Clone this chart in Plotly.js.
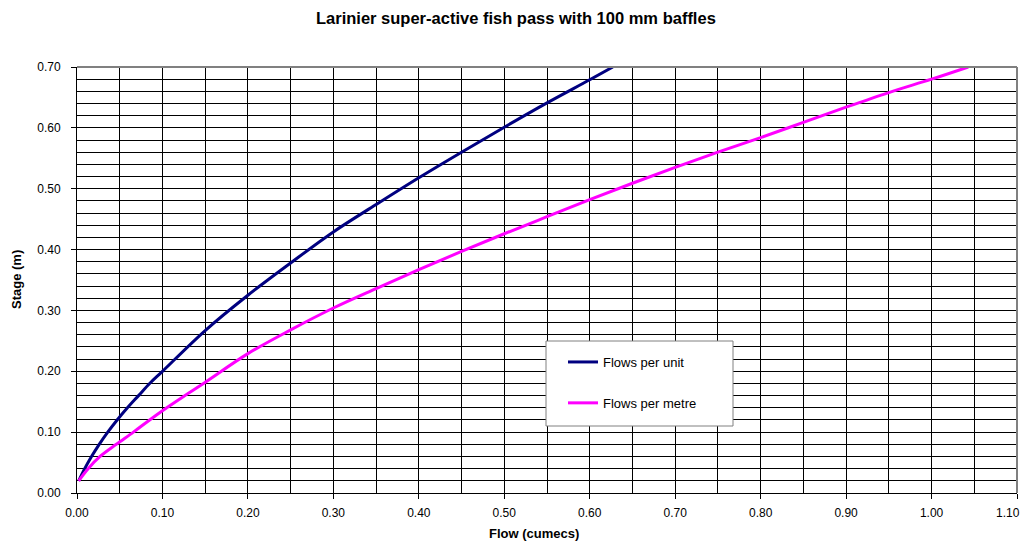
<!DOCTYPE html>
<html>
<head>
<meta charset="utf-8">
<script src="https://cdn.plot.ly/plotly-3.0.1.min.js"></script>
<style>html,body{margin:0;padding:0;background:#fff;}#chart{width:1023px;height:542px;}</style>
</head>
<body>
<div id="chart"></div>
<script>
// Flows per unit (navy)
const unitFlow  = [0.002,0.009,0.017,0.026,0.036,0.047,0.059,0.072,0.085,0.100,0.150,0.200,0.250,0.300,0.350,0.400,0.450,0.500,0.550,0.600,0.627];
const unitStage = [0.02,0.04,0.06,0.08,0.10,0.12,0.14,0.16,0.18,0.20,0.267,0.325,0.378,0.429,0.474,0.518,0.560,0.601,0.641,0.679,0.700];
// Flows per metre (magenta)
const metreFlow  = [0.002,0.013,0.027,0.046,0.066,0.085,0.105,0.126,0.148,0.200,0.250,0.300,0.350,0.400,0.450,0.500,0.550,0.600,0.650,0.700,0.750,0.800,0.850,0.900,0.950,1.000,1.043];
const metreStage = [0.02,0.04,0.06,0.08,0.10,0.12,0.14,0.16,0.18,0.229,0.268,0.304,0.336,0.367,0.397,0.426,0.454,0.482,0.509,0.535,0.560,0.584,0.609,0.634,0.658,0.680,0.700];

const seriesNames = ["Flows per unit", "Flows per metre"];
const xTickVals = [0,0.1,0.2,0.3,0.4,0.5,0.6,0.7,0.8,0.9,1.0,1.1];
const xTickText = ["0.00","0.10","0.20","0.30","0.40","0.50","0.60","0.70","0.80","0.90","1.00",""];
const lastXLabel = "1.10";
const yTickVals = [0,0.1,0.2,0.3,0.4,0.5,0.6,0.7];

const font = "Liberation Sans, Arial, sans-serif";

// plot area in pixels: left 77, right 1017, top 67, bottom 493
const px = v => (v - 77) / 940;
const py = v => (493 - v) / 426;

const traces = [
  {x: unitFlow, y: unitStage, name: seriesNames[0], mode: "lines", legendgroup: "a",
   line: {color: "#000080", width: 3, shape: "spline", smoothing: 1}},
  {x: metreFlow, y: metreStage, name: seriesNames[1], mode: "lines", legendgroup: "b",
   line: {color: "#FF00FF", width: 3, shape: "spline", smoothing: 1}}
];

const layout = {
  width: 1023, height: 542,
  margin: {l: 77, r: 6, t: 67, b: 49},
  paper_bgcolor: "#fff", plot_bgcolor: "#fff",
  font: {family: font, size: 12, color: "#000"},
  showlegend: true,
  legend: {
    x: px(563), y: py(347), xanchor: "left", yanchor: "top",
    bgcolor: "rgba(0,0,0,0)", borderwidth: 0,
    font: {family: font, size: 13, color: "#000"},
    traceorder: "grouped", tracegroupgap: 21, itemwidth: 30
  },
  xaxis: {
    range: [0, 1.1], tickvals: xTickVals, ticktext: xTickText,
    ticks: "outside", ticklen: 5, tickcolor: "#000",
    showgrid: true, gridcolor: "#000", gridwidth: 1,
    minor: {dtick: 0.05, tick0: 0, showgrid: true, gridcolor: "#000", gridwidth: 1, ticks: ""},
    showline: true, linecolor: "#000", linewidth: 1, zeroline: false,
    tickfont: {family: font, size: 12, color: "#000"}, fixedrange: true,
    ticklabelstandoff: 4
  },
  yaxis: {
    range: [0, 0.7], tickvals: yTickVals, tickformat: ".2f",
    ticks: "outside", ticklen: 5, tickcolor: "#000",
    showgrid: true, gridcolor: "#000", gridwidth: 1,
    minor: {dtick: 0.02, tick0: 0, showgrid: true, gridcolor: "#000", gridwidth: 1, ticks: ""},
    showline: true, linecolor: "#000", linewidth: 1, zeroline: false,
    tickfont: {family: font, size: 12, color: "#000"}, fixedrange: true,
    ticklabelstandoff: 8
  },
  shapes: [
    {type: "line", xref: "paper", yref: "paper", x0: 0, x1: 1, y0: 1, y1: 1, line: {color: "#808080", width: 2}},
    {type: "line", xref: "paper", yref: "paper", x0: 1, x1: 1, y0: 0, y1: 1, line: {color: "#808080", width: 2}},
    {type: "rect", xref: "paper", yref: "paper", layer: "above",
     x0: px(546), x1: px(733), y0: py(426), y1: py(341),
     fillcolor: "#fff", line: {color: "#808080", width: 1}}
  ],
  annotations: [
    {text: "<b>Larinier super-active fish pass with 100 mm baffles</b>", xref: "paper", yref: "paper",
     x: px(516), y: py(18), xanchor: "center", yanchor: "middle", showarrow: false,
     font: {family: font, size: 16.5, color: "#000"}},
    {text: "<b>Flow (cumecs)</b>", xref: "paper", yref: "paper",
     x: px(534), y: py(533), xanchor: "center", yanchor: "middle", showarrow: false,
     font: {family: font, size: 13, color: "#000"}},
    {text: "<b>Stage (m)</b>", xref: "paper", yref: "paper", textangle: -90,
     x: px(16), y: py(280), xanchor: "center", yanchor: "middle", showarrow: false,
     font: {family: font, size: 13, color: "#000"}},
    {text: lastXLabel, xref: "paper", yref: "paper",
     x: px(1022), y: py(513), xanchor: "right", yanchor: "middle", showarrow: false,
     font: {family: font, size: 12, color: "#000"}}
  ]
};

Plotly.newPlot("chart", traces, layout, {displayModeBar: false, staticPlot: true});
</script>
</body>
</html>
